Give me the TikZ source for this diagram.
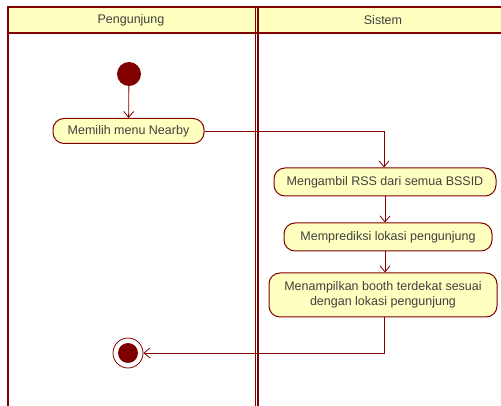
\documentclass[tikz,border=0pt]{standalone}
\usepackage{fontspec}
\setmainfont{Liberation Sans}
\usetikzlibrary{arrows.meta}
\definecolor{umlred}{HTML}{800000}
\definecolor{umlfill}{HTML}{FFFFC0}
\definecolor{umltext}{HTML}{404040}
\tikzset{
  lane/.style={draw=umlred, line width=2pt},
  action/.style={draw=umlred, fill=umlfill, rounded corners=11pt, line width=1pt,
    text=umltext, font=\fontsize{12.5}{14.5}\selectfont, align=center, inner sep=0pt},
  flow/.style={draw=umlred, line width=0.8pt, -{Straight Barb[length=6pt,width=10pt]}},
}
\begin{document}
\begin{tikzpicture}[x=1pt,y=-1pt]
\useasboundingbox (0,0) rectangle (501,406);
% swimlane headers
\fill[umlfill] (8,7) rectangle (501,33);
\draw[lane] (8,406) -- (8,7) -- (501,7);
\draw[lane] (8,33) -- (501,33);
\draw[umlred, line width=1.5pt] (255.3,7) -- (255.3,406);
\draw[umlred, line width=1.5pt] (257.8,7) -- (257.8,406);
\node[text=umltext, font=\fontsize{12.5}{14}\selectfont] (h1) at (131,20) {Pengunjung};
\node[text=umltext, font=\fontsize{12.5}{14}\selectfont] (h2) at (383,20) {Sistem};
% start and end
\node[circle, fill=umlred, minimum size=24pt, inner sep=0pt] (start) at (129,74) {};
\node[circle, draw=umlred, line width=0.8pt, fill=white, minimum size=30pt, inner sep=0pt] (stop) at (128,353) {};
\node[circle, fill=umlred, minimum size=20pt, inner sep=0pt] at (stop) {};
% actions
\node[action, minimum width=151pt, minimum height=25pt] (a1) at (128.5,131) {Memilih menu Nearby};
\node[action, minimum width=222pt, minimum height=28pt] (a2) at (385,182) {Mengambil RSS dari semua BSSID};
\node[action, minimum width=208pt, minimum height=28pt] (a3) at (388,237) {Memprediksi lokasi pengunjung};
\node[action, minimum width=228pt, minimum height=44pt] (a4) at (383,295) {Menampilkan booth terdekat sesuai\\dengan lokasi pengunjung};
% flows
\draw[flow] (start) -- (a1);
\draw[flow] (a1.east) -| (a2.north -| 384,0);
\coordinate (turn) at (384,353);
\draw[flow] (a2) -- (a3.north -| a2);
\draw[flow] (a3.south -| a2) -- (a4.north -| a2);
\draw[flow] (a4.south -| turn) -- (turn) -- (stop);
\end{tikzpicture}
\end{document}
